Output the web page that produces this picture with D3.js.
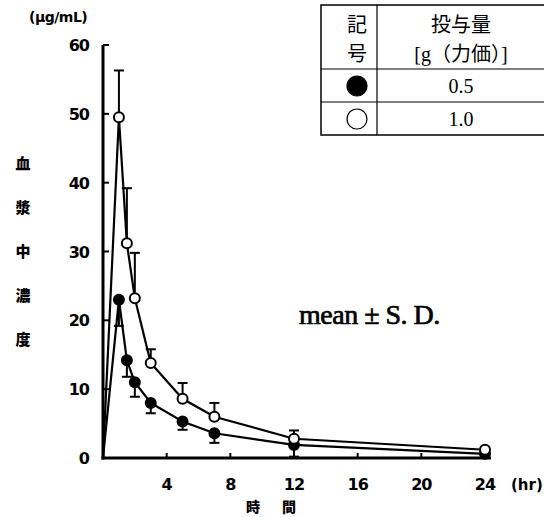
<!DOCTYPE html>
<html>
<head>
<meta charset="utf-8">
<script src="https://cdn.jsdelivr.net/npm/d3@7"></script>
<style>
body { margin: 0; background: #fff; }
svg { display: block; }
</style>
</head>
<body>
<div id="viz"></div>
<script>
var width = 544
var height = 517

// sampling times (hr)
var times = [0, 1, 1.5, 2, 3, 5, 7, 12, 24];
// 0.5 g (filled)
var low = [0, 23, 14.2, 11, 8, 5.3, 3.6, 1.9, 0.6];
var lowSD = [0, 3.8, 2.4, 2.1, 1.5, 1.2, 1.4, 1.7, 0.3];
// 1.0 g (open)
var high = [0, 49.5, 31.2, 23.2, 13.8, 8.6, 6, 2.8, 1.2];
var highSD = [0, 6.8, 8, 6.6, 2, 2.3, 2, 1.2, 0.4];

var xTicks = [4, 8, 12, 16, 20, 24];
var yTicks = [0, 10, 20, 30, 40, 50, 60];
var yTitle = ["血", "漿", "中", "濃", "度"];
var xTitle = ["時", "間"];

var svg = d3.select("#viz").append("svg")
    .attr("width", width)
    .attr("height", height);

var x = d3.scaleLinear().domain([0, 24]).range([103, 485]);
var y = d3.scaleLinear().domain([0, 60]).range([458, 45]);

var bold = "'DejaVu Sans', Arial, sans-serif";
var serif = "'Liberation Serif', 'Noto Sans CJK JP', serif";

// axes
svg.append("line").attr("x1", x(0)).attr("x2", x(0)).attr("y1", y(60)).attr("y2", y(0) + 1.5)
    .attr("stroke", "#000").attr("stroke-width", 3);
svg.append("line").attr("x1", x(0) - 1.5).attr("x2", x(24) + 6).attr("y1", y(0)).attr("y2", y(0))
    .attr("stroke", "#000").attr("stroke-width", 3);

svg.selectAll(".ytick").data(yTicks).enter().append("line")
    .attr("x1", x(0)).attr("x2", x(0) + 6)
    .attr("y1", d => y(d)).attr("y2", d => y(d))
    .attr("stroke", "#000").attr("stroke-width", 2);
svg.selectAll(".ylab").data(yTicks).enter().append("text")
    .attr("x", 89).attr("y", d => y(d) + 6)
    .attr("text-anchor", "end")
    .style("font-family", bold).style("font-weight", "bold").style("font-size", "16px")
    .style("letter-spacing", "-1px")
    .text(d => d);

svg.selectAll(".xtick").data(xTicks).enter().append("line")
    .attr("x1", d => x(d)).attr("x2", d => x(d))
    .attr("y1", y(0)).attr("y2", y(0) - 5)
    .attr("stroke", "#000").attr("stroke-width", 2);
svg.selectAll(".xlab").data(xTicks).enter().append("text")
    .attr("x", d => x(d)).attr("y", 490)
    .attr("text-anchor", "middle")
    .style("font-family", bold).style("font-weight", "bold").style("font-size", "16px")
    .style("letter-spacing", "-1px")
    .text(d => d);

svg.append("text").attr("x", 511).attr("y", 490)
    .style("font-family", bold).style("font-weight", "bold").style("font-size", "15px")
    .text("(hr)");
svg.append("text").attr("x", 29).attr("y", 22)
    .style("font-family", bold).style("font-weight", "bold").style("font-size", "14px")
    .style("letter-spacing", "-0.5px")
    .text("(μg/mL)");

svg.selectAll(".xtitle").data(xTitle).enter().append("text")
    .attr("x", (d, i) => 253 + i * 36).attr("y", 512)
    .attr("text-anchor", "middle")
    .style("font-family", "'Noto Sans CJK JP', sans-serif").style("font-weight", "900").style("font-size", "14px")
    .text(d => d);

svg.selectAll(".ytitle").data(yTitle).enter().append("text")
    .attr("x", 23).attr("y", (d, i) => 169 + i * 44)
    .attr("text-anchor", "middle")
    .style("font-family", "'Noto Sans CJK JP', sans-serif").style("font-weight", "900").style("font-size", "15px")
    .text(d => d);

// series
var line = d3.line().x(d => x(d[0])).y(d => y(d[1]));

function drawSeries(vals, sds, dir, fill) {
    var pts = times.map((t, i) => [t, vals[i], sds[i]]);
    svg.append("path").datum(pts)
        .attr("d", line)
        .attr("fill", "none").attr("stroke", "#000").attr("stroke-width", 2.2);
    var bars = pts.filter(d => d[2] > 0);
    svg.selectAll(null).data(bars).enter().append("line")
        .attr("x1", d => x(d[0])).attr("x2", d => x(d[0]))
        .attr("y1", d => y(d[1])).attr("y2", d => y(d[1] + dir * d[2]))
        .attr("stroke", "#000").attr("stroke-width", 2);
    svg.selectAll(null).data(bars).enter().append("line")
        .attr("x1", d => x(d[0]) - 5).attr("x2", d => x(d[0]) + 5)
        .attr("y1", d => y(d[1] + dir * d[2])).attr("y2", d => y(d[1] + dir * d[2]))
        .attr("stroke", "#000").attr("stroke-width", 2);
    svg.selectAll(null).data(pts.slice(1)).enter().append("circle")
        .attr("cx", d => x(d[0])).attr("cy", d => y(d[1]))
        .attr("r", 5)
        .attr("fill", fill).attr("stroke", "#000").attr("stroke-width", 2);
}
drawSeries(low, lowSD, -1, "#000");
drawSeries(high, highSD, 1, "#fff");

svg.append("text").attr("x", 299).attr("y", 324)
    .style("font-family", serif).style("font-size", "28px")
    .style("stroke", "#000").style("stroke-width", 0.7)
    .style("letter-spacing", "-0.5px")
    .text("mean ± S. D.");

// legend table
var doses = ["0.5", "1.0"];
var symFill = ["#000", "#fff"];
var tb = svg.append("g");
tb.append("rect").attr("x", 321).attr("y", 5).attr("width", 240).attr("height", 130)
    .attr("fill", "#fff").attr("stroke", "#000").attr("stroke-width", 1.5);
tb.append("line").attr("x1", 377).attr("x2", 377).attr("y1", 5).attr("y2", 135)
    .attr("stroke", "#000").attr("stroke-width", 1.2);
[69, 102].forEach(function(yy) {
    tb.append("line").attr("x1", 321).attr("x2", 561).attr("y1", yy).attr("y2", yy)
        .attr("stroke", "#000").attr("stroke-width", 1.2);
});
var tf = "'Liberation Serif', 'Noto Sans CJK JP', serif";
tb.append("text").attr("x", 357).attr("y", 32).attr("text-anchor", "middle")
    .style("font-family", tf).style("font-size", "20px").text("記");
tb.append("text").attr("x", 357).attr("y", 61).attr("text-anchor", "middle")
    .style("font-family", tf).style("font-size", "20px").text("号");
tb.append("text").attr("x", 461).attr("y", 32).attr("text-anchor", "middle")
    .style("font-family", tf).style("font-size", "20px").text("投与量");
tb.append("text").attr("x", 461).attr("y", 61).attr("text-anchor", "middle")
    .style("font-family", tf).style("font-size", "20px").text("[g（力価）]");
doses.forEach(function(d, i) {
    var cy = 86 + i * 33;
    tb.append("circle").attr("cx", 357).attr("cy", cy).attr("r", 10)
        .attr("fill", symFill[i]).attr("stroke", "#000").attr("stroke-width", 1.2);
    tb.append("text").attr("x", 461).attr("y", cy + 7).attr("text-anchor", "middle")
        .style("font-family", tf).style("font-size", "20px").text(d);
});
</script>
</body>
</html>
